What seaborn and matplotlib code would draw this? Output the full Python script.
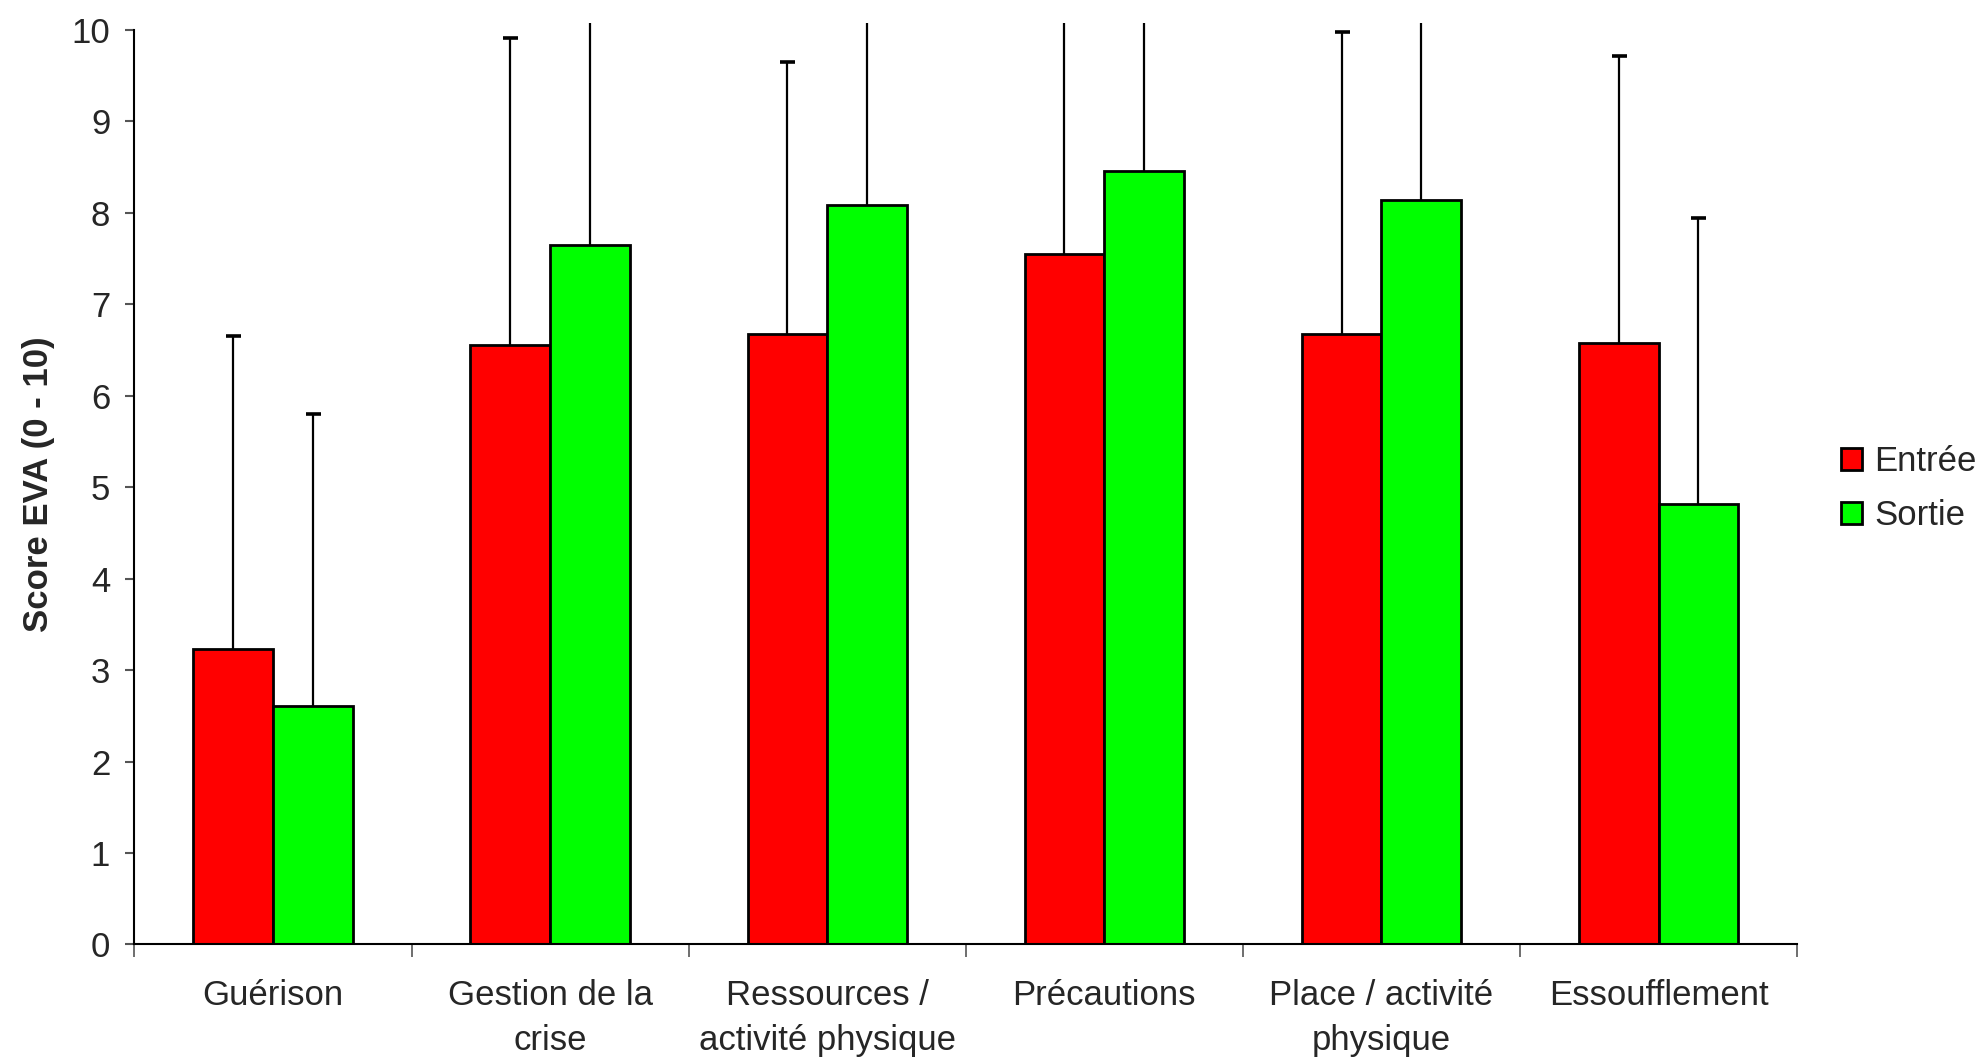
import numpy as np
import pandas as pd
import matplotlib
matplotlib.use("Agg")
import matplotlib.pyplot as plt
from matplotlib.patches import Patch
import seaborn as sns

# data
categories = ["Guérison", "Gestion de la\ncrise", "Ressources /\nactivité physique",
              "Précautions", "Place / activité\nphysique", "Essoufflement"]
groups = ["Entrée", "Sortie"]
entree = [3.23, 6.55, 6.67, 7.55, 6.67, 6.58]
sortie = [2.61, 7.65, 8.08, 8.46, 8.14, 4.82]
entree_sd = [3.42, 3.36, 2.98, 2.90, 3.30, 3.13]
sortie_sd = [3.19, 3.00, 2.60, 2.30, 2.50, 3.12]
colors = ["#ff0000", "#00ff00"]

df = pd.DataFrame({
    "cat": categories * 2,
    "score": entree + sortie,
    "groupe": [groups[0]] * len(categories) + [groups[1]] * len(categories),
})

sns.set_style("white")
plt.rcParams["font.family"] = ["Liberation Sans", "DejaVu Sans"]
plt.rcParams["font.size"] = 25

fig, ax = plt.subplots(figsize=(19.77, 10.6), dpi=100)
fig.subplots_adjust(left=0.068, right=0.909, bottom=0.109, top=0.978)

sns.barplot(data=df, x="cat", y="score", hue="groupe", order=categories,
            hue_order=groups, palette=colors, saturation=1, width=0.575,
            edgecolor="black", linewidth=2, errorbar=None, legend=False, ax=ax)

# upper-only error bars (SD)
for container, sd in zip(ax.containers, [entree_sd, sortie_sd]):
    xs = [p.get_x() + p.get_width() / 2 for p in container]
    hs = [p.get_height() for p in container]
    eb = ax.errorbar(xs, hs, yerr=[np.zeros(len(sd)), sd], fmt="none", ecolor="black",
                     elinewidth=1.6, capsize=5.4, capthick=2.6, zorder=0.5)
    # hide the cap sitting on the bar top
    eb[1][0].set_visible(False)

ax.set_xlim(-0.5, len(categories) - 0.5)
ax.set_ylim(0, 10.07)
ax.set_yticks(range(11))
ax.set_xlabel("")
ax.set_ylabel("Score EVA (0 - 10)", fontweight="bold", fontsize=25, labelpad=12)

for s in ["top", "right"]:
    ax.spines[s].set_visible(False)
for s in ["left", "bottom"]:
    ax.spines[s].set_color("black")
    ax.spines[s].set_linewidth(1.5)
ax.spines["left"].set_bounds(0, 10)

ax.tick_params(axis="y", direction="out", length=6.5, width=1.5, color="#555555",
               pad=11, labelsize=25, left=True)
ax.set_xticks(np.arange(-0.5, len(categories)), minor=True)
ax.tick_params(axis="x", which="minor", direction="out", length=9, width=1.2,
               color="#555555", bottom=True)
ax.tick_params(axis="x", which="major", length=0, pad=25, labelsize=25)
for lab in ax.get_xticklabels():
    lab.set_linespacing(1.45)

handles = [Patch(facecolor=c, edgecolor="black", linewidth=2) for c in colors]
ax.legend(handles, groups, loc="center left", bbox_to_anchor=(1.0265, 0.495),
          frameon=False, borderpad=0, borderaxespad=0, handlelength=0.6,
          handleheight=0.6, handletextpad=0.35, labelspacing=0.6, fontsize=25)

fig.savefig("out.png", dpi=100)
